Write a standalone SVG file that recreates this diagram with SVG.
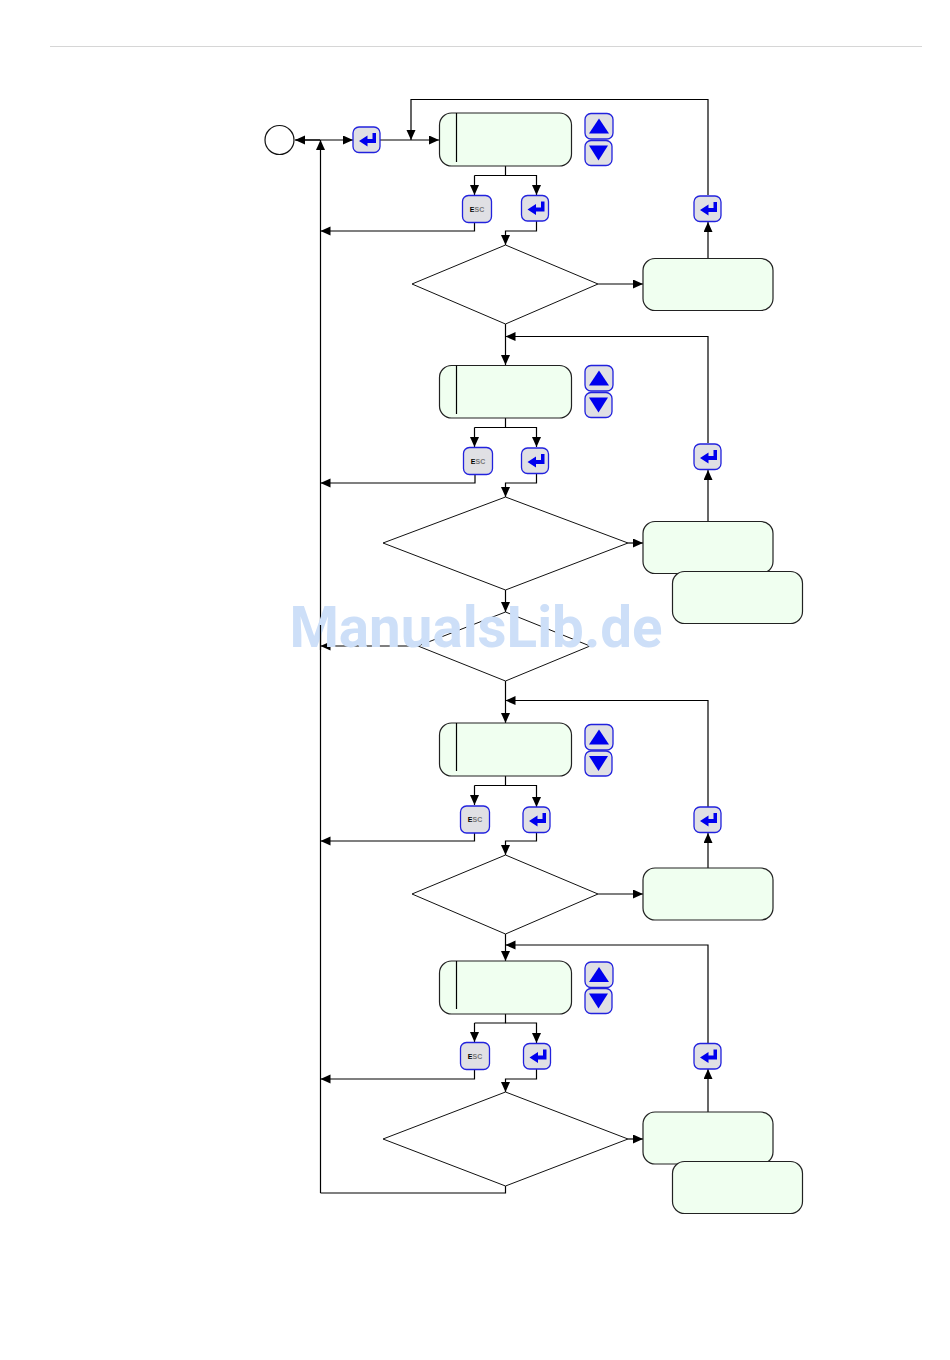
<svg xmlns="http://www.w3.org/2000/svg" width="950" height="1360" viewBox="0 0 950 1360">
<style>
.c{fill:none;stroke:#000;stroke-width:1.2;marker-end:url(#a)}
.l{fill:none;stroke:#000;stroke-width:1.2}
.d{fill:#fff;stroke:#111;stroke-width:1}
.b{fill:#f0fff0;stroke:#222;stroke-width:1.2}
.k{fill:#e0e0e4;stroke:#2222dd;stroke-width:1.3}
.g{fill:#0000ee}
.e{font:bold 7px "Liberation Sans",Arial,sans-serif;fill:#777;text-anchor:middle}
.w{font:bold 56.500px Roboto,"Liberation Sans",sans-serif;fill:#cddff8;text-anchor:middle}
</style>
<defs>
<marker id="a" markerUnits="userSpaceOnUse" markerWidth="11" markerHeight="10" refX="10" refY="4.500" orient="auto"><path d="M0 0L10 4.500L0 9z" fill="#000"/></marker>
<g id="ent"><rect class="k" x="0.5" y="0.5" width="27" height="25.5" rx="6"/><path class="g" d="M6.500 14.500L15 9V12.500H20V6.500H23.500V16.500H15V20z"/></g>
<g id="up"><rect class="k" x="0.5" y="0.5" width="28" height="25.5" rx="6"/><path class="g" d="M14.500 5.500L24.500 20.500H4.500z"/></g>
<g id="dn"><rect class="k" x="0.5" y="0.5" width="27" height="25" rx="6"/><path class="g" d="M14 20.500L4.500 5.500H23.500z"/></g>
<g id="esc"><rect class="k" x="0.5" y="0.5" width="29" height="27" rx="6"/><text class="e" x="15" y="16.500"><tspan fill="#000">E</tspan>SC</text></g>
</defs>
<path id="header" d="M50 46.500H922" stroke="#d6d6d6" fill="none"/>
<g id="connectors">
<path class="c" d="M296 140H353"/><path class="c" d="M320.500 1193V140"/><path class="c" d="M320 140H295"/>
<path class="c" d="M380 140H439"/>
<path class="c" d="M708 195V99.500H411V140"/>
<path class="l" d="M505.500 166V175.500H474.500"/><path class="c" d="M474.500 175.500V195"/><path class="c" d="M505.500 175.500H536.500V195"/>
<path class="c" d="M474.500 222V231H320.500"/><path class="c" d="M536.500 221V231H505.500V245"/>
<path class="c" d="M598 284H643"/><path class="c" d="M708 258V222"/>
<path class="c" d="M505.500 324V365"/><path class="c" d="M708 443V336.500H505.500"/>
<path class="l" d="M505.500 418V427.500H474.500"/><path class="c" d="M474.500 427.500V447"/><path class="c" d="M505.500 427.500H536.500V447"/>
<path class="c" d="M475 474V483H320.500"/><path class="c" d="M536.500 474V483H505.500V497"/>
<path class="c" d="M628 543H643"/><path class="c" d="M708 521V470"/>
<path class="c" d="M505.500 590V612"/><path class="c" d="M418 646H320.500"/>
<path class="c" d="M505.500 681V723"/><path class="c" d="M708 807V700.500H505.500"/>
<path class="l" d="M505.500 776V785.500H474.500"/><path class="c" d="M474.500 785.500V805"/><path class="c" d="M505.500 785.500H536.500V807"/>
<path class="c" d="M474.500 833V841H320.500"/><path class="c" d="M536.500 832V841H505.500V855"/>
<path class="c" d="M598 894H643"/><path class="c" d="M708 868V833"/>
<path class="c" d="M505.500 934V961"/><path class="c" d="M708 1043V945H505.500"/>
<path class="l" d="M505.500 1014V1023H474.500"/><path class="c" d="M474.500 1023V1042"/><path class="c" d="M505.500 1023H536.500V1043"/>
<path class="c" d="M474.500 1070V1079H320.500"/><path class="c" d="M536.500 1069V1079H505.500V1092"/>
<path class="c" d="M628 1139H643"/><path class="c" d="M708 1112V1069"/>
<path class="l" d="M505.500 1186V1193H320.500"/>
</g>
<g id="start"><circle cx="279.500" cy="140" r="14.500" fill="#fff" stroke="#111" stroke-width="1.2"/></g>
<use id="enter0" href="#ent" x="352.500" y="126.500"/>
<g id="display1"><rect class="b" x="439.500" y="113" width="132" height="53" rx="12"/><path class="l" d="M456.500 113V162"/></g>
<use id="up1" href="#up" x="584.500" y="113"/><use id="down1" href="#dn" x="584.500" y="140"/>
<use id="esc1" href="#esc" x="462" y="195"/><use id="enter1" href="#ent" x="521" y="195"/>
<polygon id="decision1" class="d" points="412,284 505.500,245 598,284 505.500,324"/>
<rect id="box1" class="b" x="643" y="258.500" width="130" height="52" rx="12"/>
<use id="enter1b" href="#ent" x="693.500" y="195.500"/>
<g id="display2"><rect class="b" x="439.500" y="365.500" width="132" height="52.500" rx="12"/><path class="l" d="M456.500 365.500V414"/></g>
<use id="up2" href="#up" x="584.500" y="365"/><use id="down2" href="#dn" x="584.500" y="392"/>
<use id="esc2" href="#esc" x="463" y="447"/><use id="enter2" href="#ent" x="521" y="447.500"/>
<polygon id="decision2" class="d" points="383,543 505.500,497 628,543 505.500,590"/>
<rect id="box2" class="b" x="643" y="521.500" width="130" height="52" rx="12"/>
<rect id="box2b" class="b" x="672.500" y="571.500" width="130" height="52" rx="12"/>
<use id="enter2b" href="#ent" x="693.500" y="443.500"/>
<polygon id="decision3" class="d" points="418,646 505.500,612 590,646 505.500,681"/>
<g id="display3"><rect class="b" x="439.500" y="723" width="132" height="53" rx="12"/><path class="l" d="M456.500 723V771"/></g>
<use id="up3" href="#up" x="584.500" y="724"/><use id="down3" href="#dn" x="584.500" y="750.500"/>
<use id="esc3" href="#esc" x="460" y="805.500"/><use id="enter3" href="#ent" x="522.500" y="806.500"/>
<polygon id="decision4" class="d" points="412,894 505.500,855 598,894 505.500,934"/>
<rect id="box3" class="b" x="643" y="868" width="130" height="52" rx="12"/>
<use id="enter3b" href="#ent" x="693.500" y="806.500"/>
<g id="display4"><rect class="b" x="439.500" y="961" width="132" height="53" rx="12"/><path class="l" d="M456.500 961V1009"/></g>
<use id="up4" href="#up" x="584.500" y="961.500"/><use id="down4" href="#dn" x="584.500" y="988"/>
<use id="esc4" href="#esc" x="460" y="1042"/><use id="enter4" href="#ent" x="523" y="1043"/>
<polygon id="decision5" class="d" points="383,1139 505.500,1092 628,1139 505.500,1186"/>
<rect id="box4" class="b" x="643" y="1112" width="130" height="52" rx="12"/>
<rect id="box4b" class="b" x="672.500" y="1161.500" width="130" height="52" rx="12"/>
<use id="enter4b" href="#ent" x="693.500" y="1043"/>
<text id="watermark" class="w" x="476" y="647">ManualsLib.de</text>
<path id="rail-over-watermark" class="l" d="M320.500 625V650"/>
</svg>
